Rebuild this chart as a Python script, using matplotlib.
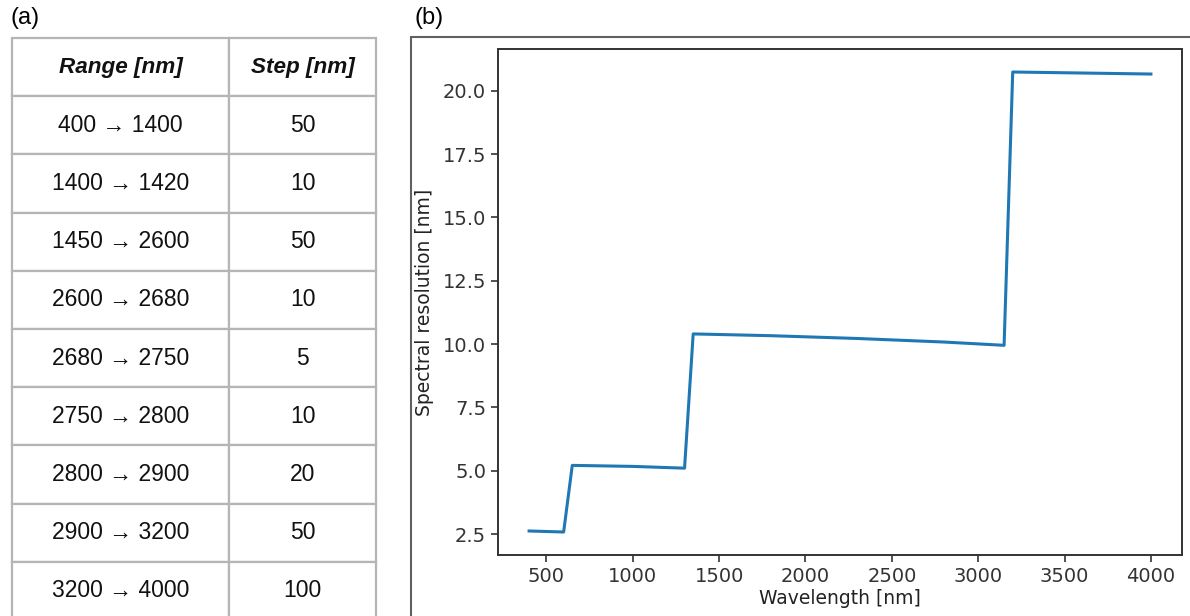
import matplotlib
matplotlib.use("Agg")
import matplotlib.pyplot as plt
from matplotlib.patches import Rectangle

# sampling grid used for the spectra
range_labels = ["400 → 1400", "1400 → 1420", "1450 → 2600", "2600 → 2680",
                "2680 → 2750", "2750 → 2800", "2800 → 2900", "2900 → 3200",
                "3200 → 4000"]
step_labels = ["50", "10", "50", "10", "5", "10", "20", "50", "100"]
col_labels = ["Range [nm]", "Step [nm]"]

# spectral resolution curve
wavelength = [400, 600, 650, 1000, 1300, 1350, 1800, 2300, 2800, 3150, 3200, 4000]
resolution = [2.62, 2.58, 5.21, 5.17, 5.10, 10.40, 10.33, 10.22, 10.08, 9.95, 20.74, 20.66]

W, H = 1190, 616
fig = plt.figure(figsize=(W / 100, H / 100), dpi=100)
arial = ["Liberation Sans", "DejaVu Sans"]

# (a) table
ax_t = fig.add_axes([12 / W, 1 - 620 / H, (376 - 12) / W, (620 - 38) / H])
ax_t.axis("off")
tab = ax_t.table(cellText=[[r, s] for r, s in zip(range_labels, step_labels)],
                 colLabels=col_labels, cellLoc="center", bbox=[0, 0, 1, 1],
                 colWidths=[217, 147])
tab.auto_set_font_size(False)
tab.set_fontsize(16.5)
for (r, c), cell in tab.get_celld().items():
    cell.set_edgecolor("#b5b5b5")
    cell.set_linewidth(1.6)
    cell.get_text().set_family(arial)
    cell.get_text().set_color("#111111")
    if r == 0:
        cell.get_text().set_fontweight("bold")
        cell.get_text().set_fontstyle("italic")
        cell.get_text().set_fontsize(16.2)

fig.text(10 / W, 1 - 18 / H, "(a)", family=arial, fontsize=17, va="center", ha="left")
fig.text(414 / W, 1 - 18 / H, "(b)", family=arial, fontsize=17, va="center", ha="left")

# frame around panel (b)
fig.patches.append(Rectangle((411 / W, -0.05), 1.0, 1 - 37 / H + 0.05,
                             transform=fig.transFigure, fill=False,
                             edgecolor="#606060", linewidth=1.5))

# (b) resolution plot
ax = fig.add_axes([498 / W, 1 - 555 / H, (1182 - 498) / W, (555 - 49) / H])
ax.plot(wavelength, resolution, color="#1f77b4", linewidth=2.2)
ax.set_xticks([500, 1000, 1500, 2000, 2500, 3000, 3500, 4000])
ax.set_yticks([2.5, 5.0, 7.5, 10.0, 12.5, 15.0, 17.5, 20.0])
ax.tick_params(labelsize=14, colors="#333333", length=5, width=1.2)
for s in ax.spines.values():
    s.set_color("#333333")
    s.set_linewidth(1.4)
ax.set_xlabel("Wavelength [nm]", fontsize=13.5, color="#222222", labelpad=2)
ax.set_ylabel("Spectral resolution [nm]", fontsize=13.5, color="#222222", labelpad=6)

fig.savefig("out.png", dpi=100)
